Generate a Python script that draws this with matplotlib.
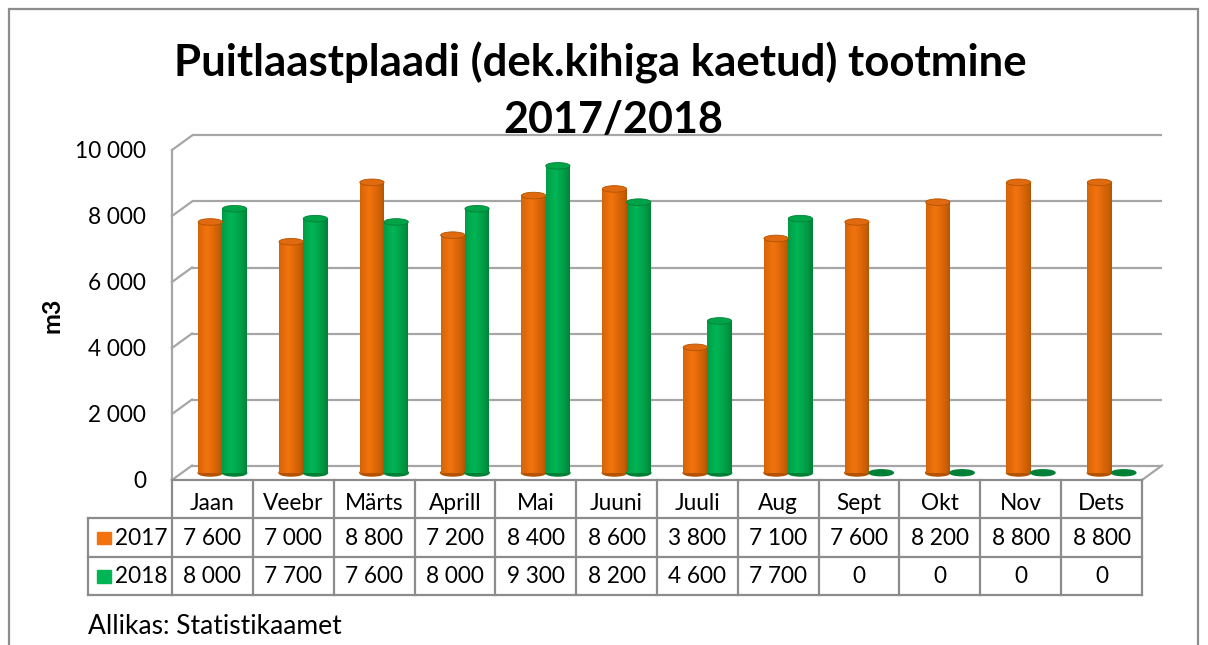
import numpy as np
import matplotlib.pyplot as plt
from matplotlib.patches import Ellipse, Rectangle

months = ['Jaan', 'Veebr', 'Märts', 'Aprill', 'Mai', 'Juuni',
          'Juuli', 'Aug', 'Sept', 'Okt', 'Nov', 'Dets']
y2017 = [7600, 7000, 8800, 7200, 8400, 8600, 3800, 7100, 7600, 8200, 8800, 8800]
y2018 = [8000, 7700, 7600, 8000, 9300, 8200, 4600, 7700, 0, 0, 0, 0]
series_names = ['2017', '2018']
yticks = [0, 2000, 4000, 6000, 8000, 10000]

FONT = 'Lato'
W, H = 1208, 645
GRID = '#a6a6a6'
TABLE = '#8c8c8c'
FS = 16.3

# colours: (dark edge, bright, top)
orange = ((0.70, 0.32, 0.0), (0.95, 0.45, 0.05), '#e06a10')
green = ((0.0, 0.50, 0.21), (0.0, 0.71, 0.33), '#00a448')


def fmt(v):
    return f'{v:,}'.replace(',', ' ')


fig = plt.figure(figsize=(W / 100, H / 100), dpi=100)
fig.patch.set_facecolor('white')

# front plane of the 3d box, pixels
x0, x1 = 172, 1142
yb, yt = 480, 150
ax = fig.add_axes([x0 / W, 1 - yb / H, (x1 - x0) / W, (yb - yt) / H])
ax.set_xlim(-0.5, 11.5)
ax.set_ylim(0, 10000)
for s in ax.spines.values():
    s.set_visible(False)
ax.set_xticks([])
ax.set_yticks(yticks)
ax.set_yticklabels([fmt(v) for v in yticks], fontsize=FS, family=FONT)
ax.tick_params(axis='y', length=0, pad=18.5)

# depth offset in data units
px_x = (x1 - x0) / 12
px_y = (yb - yt) / 10000
DX = 20 / px_x
DY = 14.5 / px_y

# back wall gridlines + left wall diagonals
for v in yticks:
    ax.plot([-0.5 + DX, 11.5 + DX], [v + DY, v + DY], color=GRID, lw=1.6,
            clip_on=False, zorder=1, solid_capstyle='butt')
    ax.plot([-0.5, -0.5 + DX], [v, v + DY], color=GRID, lw=1.6,
            clip_on=False, zorder=1)
ax.plot([-0.5, -0.5], [0, 10000], color=GRID, lw=1.6, clip_on=False, zorder=1)
ax.plot([11.5, 11.5 + DX], [0, DY], color=GRID, lw=1.6, clip_on=False, zorder=1)

# cylinders at mid depth
bw = 0.30
eh = 200
nstrip = 24
t = (np.arange(nstrip) + 0.5) / nstrip
shade = np.clip(1 - np.abs(t - 0.38) / 0.62, 0, 1) ** 0.7


def cylinder(xc, val, col):
    dark, bright, top = col
    xc = xc + DX / 2
    base = DY / 2
    if val <= 0:
        ax.add_patch(Ellipse((xc, base), bw, eh * 0.9, color=dark, zorder=3,
                             clip_on=False))
        return
    ax.add_patch(Ellipse((xc, base), bw, eh, color=dark, zorder=3, clip_on=False))
    cols = [tuple(np.array(dark) + (np.array(bright) - np.array(dark)) * s) for s in shade]
    ax.bar(xc - bw / 2 + (t * bw), [val] * nstrip, width=bw / nstrip * 1.05,
           bottom=base, color=cols, linewidth=0, zorder=3, clip_on=False)
    ax.add_patch(Ellipse((xc, base + val), bw, eh, facecolor=top,
                         edgecolor=dark, lw=0.6, zorder=4, clip_on=False))


xs = np.arange(len(months))
for i in range(len(months)):
    cylinder(xs[i] - bw / 2, y2017[i], orange)
    cylinder(xs[i] + bw / 2, y2018[i], green)

# data table
tb_bottom = 595
tax = fig.add_axes([x0 / W, 1 - tb_bottom / H, (x1 - x0) / W, (tb_bottom - yb) / H])
tax.set_xlim(-0.5, 11.5)
tax.set_ylim(3, 0)
tax.axis('off')
xl = -0.5 - (x0 - 88) / px_x
kw = dict(color=TABLE, lw=1.6, clip_on=False, solid_capstyle='projecting')
tax.plot([-0.5, 11.5], [0, 0], **kw)
for r in (1, 2, 3):
    tax.plot([xl, 11.5], [r, r], **kw)
tax.plot([xl, xl], [1, 3], **kw)
for k in range(13):
    tax.plot([k - 0.5, k - 0.5], [0, 3], **kw)

for i, m in enumerate(months):
    tax.text(i, 0.6, m, ha='center', va='center', fontsize=FS, family=FONT)
    tax.text(i, 1.52, fmt(y2017[i]), ha='center', va='center', fontsize=FS, family=FONT)
    tax.text(i, 2.52, fmt(y2018[i]), ha='center', va='center', fontsize=FS, family=FONT)

for r, (name, col) in enumerate(zip(series_names, [orange, green])):
    tax.add_patch(Rectangle((xl + 0.11, r + 1.35), 0.17, 0.33, color=col[1],
                            clip_on=False))
    tax.text(xl + 0.34, r + 1.52, name, ha='left', va='center', fontsize=FS,
             family=FONT)

# texts
fig.text(600 / W, 1 - 77 / H, 'Puitlaastplaadi (dek.kihiga kaetud) tootmine',
         ha='center', va='baseline', fontsize=31.5, fontweight='bold', family=FONT)
fig.text(613 / W, 1 - 133 / H, '2017/2018', ha='center', va='baseline',
         fontsize=31, fontweight='bold', family=FONT)
fig.text(52 / W, 1 - 315 / H, 'm3', rotation=90, ha='center', va='center',
         fontsize=18, fontweight='bold', family=FONT)
fig.text(88 / W, 1 - 627 / H, 'Allikas: Statistikaamet', ha='left', va='center',
         fontsize=19, family=FONT)

# outer frame
fig.add_artist(Rectangle((9 / W, -0.01), 1189 / W, 1 - 9 / H + 0.01,
                         transform=fig.transFigure, fill=False,
                         edgecolor='#8c8c8c', lw=1.6))

fig.savefig('out.png', dpi=100, facecolor='white')
